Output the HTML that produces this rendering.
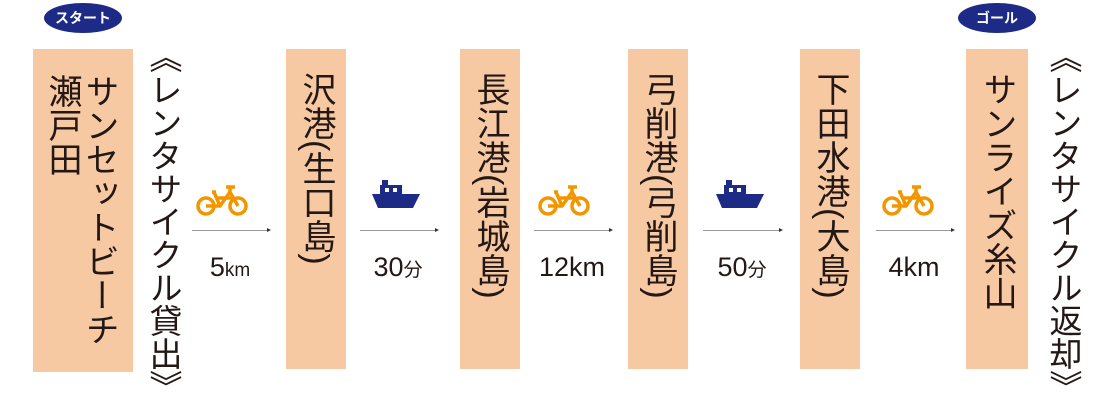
<!DOCTYPE html>
<html><head><meta charset="utf-8"><style>
body{margin:0;width:1105px;height:406px;background:#fff;position:relative;overflow:hidden;font-family:"Liberation Sans","Noto Sans CJK JP",sans-serif;color:#231815}
.box{position:absolute;background:#f7c9a3;top:49px}
.v{position:absolute;writing-mode:vertical-rl;font-size:34px;line-height:34px;white-space:nowrap}
.ar{position:absolute;height:1px;background:#999;top:230px}
.ar:after{content:"";position:absolute;right:-3px;top:-2px;border-left:4px solid #333;border-top:2.5px solid transparent;border-bottom:2.5px solid transparent}
.lbl{position:absolute;top:252px;font-size:27px;text-align:center;width:90px}
.lbl small{font-size:19px}
.pill{position:absolute;top:3px;height:30px;width:78px;border-radius:50%;background:#1d2a86;color:#fff;font-size:14px;font-weight:bold;text-align:center;line-height:30px}
.ic{position:absolute;top:183px}
</style></head><body>
<div class="pill" style="left:44px">スタート</div>
<div class="pill" style="left:958px">ゴール</div>

<div class="box" style="left:33px;width:100px;height:323px"></div>
<div class="v" style="left:82px;top:74px">サンセットビーチ</div>
<div class="v" style="left:45px;top:74px">瀬戸田</div>
<div class="v" style="left:146px;top:40px;font-size:33px;line-height:34px">《レンタサイクル貸出》</div>

<div class="box" style="left:286px;width:60px;height:320px"></div>
<div class="v" style="left:299px;top:72px">沢港(生口島)</div>
<div class="box" style="left:460px;width:60px;height:320px"></div>
<div class="v" style="left:473px;top:72px">長江港(岩城島)</div>
<div class="box" style="left:628px;width:60px;height:320px"></div>
<div class="v" style="left:641px;top:72px">弓削港(弓削島)</div>
<div class="box" style="left:800px;width:60px;height:320px"></div>
<div class="v" style="left:813px;top:72px">下田水港(大島)</div>
<div class="box" style="left:966px;width:62px;height:320px"></div>
<div class="v" style="left:980px;top:72px">サンライズ糸山</div>
<div class="v" style="left:1046px;top:40px;font-size:33px;line-height:34px">《レンタサイクル返却》</div>

<div class="ar" style="left:192px;width:76px"></div>
<div class="ar" style="left:360px;width:76px"></div>
<div class="ar" style="left:534px;width:76px"></div>
<div class="ar" style="left:703px;width:77px"></div>
<div class="ar" style="left:876px;width:76px"></div>

<div class="lbl" style="left:185px">5<small>km</small></div>
<div class="lbl" style="left:353px">30<small>分</small></div>
<div class="lbl" style="left:527px">12km</div>
<div class="lbl" style="left:697px">50<small>分</small></div>
<div class="lbl" style="left:869px">4km</div>

<svg width="0" height="0" style="position:absolute"><defs>
<g id="bike" fill="none" stroke="#f29600" stroke-width="3.5"><circle cx="10" cy="23" r="8"/><circle cx="42" cy="23" r="8"/><path d="M10 23h14l10-14M18 9l6 14M16 9h4M34 4v5l8 14M30 4h9M20 15h16"/></g>
<g id="ship" fill="#1d2a86"><rect x="10" y="0" width="6" height="6"/><rect x="8" y="5" width="22" height="11"/><path d="M0 14h48l-7 14H6z"/><rect x="13" y="8" width="4" height="4" fill="#fff"/><rect x="21" y="8" width="4" height="4" fill="#fff"/></g>
</defs></svg>
<svg class="ic" style="left:196px" width="56" height="36"><use href="#bike"/></svg>
<svg class="ic" style="left:372px;top:180px" width="50" height="34"><use href="#ship"/></svg>
<svg class="ic" style="left:538px" width="56" height="36"><use href="#bike"/></svg>
<svg class="ic" style="left:716px;top:180px" width="50" height="34"><use href="#ship"/></svg>
<svg class="ic" style="left:882px" width="56" height="36"><use href="#bike"/></svg>
</body></html>
